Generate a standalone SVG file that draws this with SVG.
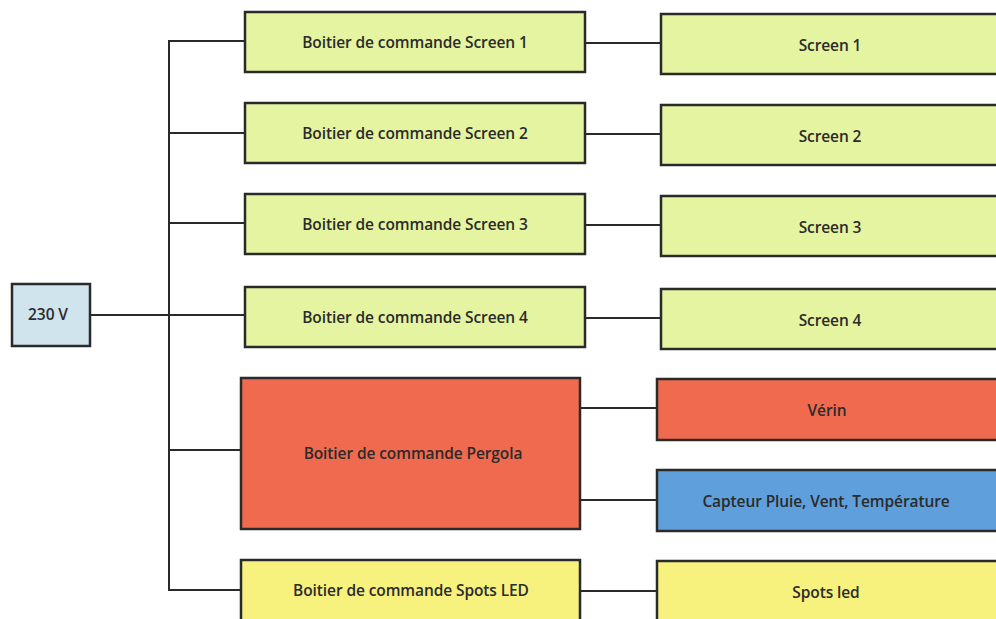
<svg xmlns="http://www.w3.org/2000/svg" width="996" height="619" viewBox="0 0 996 619">
<style>
.box{stroke:#2a2a2a;stroke-width:2.5}
.g{fill:#e5f4a0}
.r{fill:#ef6a4f}
.b{fill:#5e9fdc}
.y{fill:#f7f17e}
.v{fill:#cfe4ec}
.t{font-family:"Open Sans","Liberation Sans",Arial,sans-serif;font-size:15.5px;font-weight:600;fill:#2b2b2b;text-anchor:middle;dominant-baseline:central;letter-spacing:-0.1px}
.c{stroke:#2a2a2a;stroke-width:2;fill:none}
</style>
<rect x="0" y="0" width="996" height="619" fill="#ffffff"/>
<g id="connectors">
<path class="c" d="M245 41 H169 V590 H241"/>
<path class="c" d="M169 133 H245"/>
<path class="c" d="M169 223 H245"/>
<path class="c" d="M169 450 H241"/>
<path class="c" d="M90 315 H245"/>
<path class="c" d="M585 43 H661"/>
<path class="c" d="M585 134 H661"/>
<path class="c" d="M585 225 H661"/>
<path class="c" d="M585 318 H661"/>
<path class="c" d="M580 408 H657"/>
<path class="c" d="M580 500 H657"/>
<path class="c" d="M580 591 H657"/>
</g>
<g id="n230"><rect class="box v" x="12" y="284" width="78" height="62"/><text class="t" x="48" y="314">230 V</text></g>
<g id="b1"><rect class="box g" x="245" y="12" width="340" height="60"/><text class="t" x="415" y="42">Boitier de commande Screen 1</text></g>
<g id="b2"><rect class="box g" x="245" y="103" width="340" height="60"/><text class="t" x="415" y="133">Boitier de commande Screen 2</text></g>
<g id="b3"><rect class="box g" x="245" y="194" width="340" height="60"/><text class="t" x="415" y="224">Boitier de commande Screen 3</text></g>
<g id="b4"><rect class="box g" x="245" y="287" width="340" height="60"/><text class="t" x="415" y="317">Boitier de commande Screen 4</text></g>
<g id="bp"><rect class="box r" x="241" y="378" width="339" height="151"/><text class="t" x="413" y="453">Boitier de commande Pergola</text></g>
<g id="bs"><rect class="box y" x="241" y="560" width="339" height="64"/><text class="t" x="411" y="590">Boitier de commande Spots LED</text></g>
<g id="s1"><rect class="box g" x="661" y="14" width="340" height="60"/><text class="t" x="830" y="45">Screen 1</text></g>
<g id="s2"><rect class="box g" x="661" y="105" width="340" height="60"/><text class="t" x="830" y="136">Screen 2</text></g>
<g id="s3"><rect class="box g" x="661" y="196" width="340" height="60"/><text class="t" x="830" y="227">Screen 3</text></g>
<g id="s4"><rect class="box g" x="661" y="289" width="340" height="60"/><text class="t" x="830" y="320">Screen 4</text></g>
<g id="verin"><rect class="box r" x="657" y="379" width="344" height="61"/><text class="t" x="827" y="410">Vérin</text></g>
<g id="capteur"><rect class="box b" x="657" y="470" width="344" height="61"/><text class="t" x="826" y="501">Capteur Pluie, Vent, Température</text></g>
<g id="spots"><rect class="box y" x="657" y="561" width="344" height="64"/><text class="t" x="826" y="592">Spots led</text></g>
</svg>
